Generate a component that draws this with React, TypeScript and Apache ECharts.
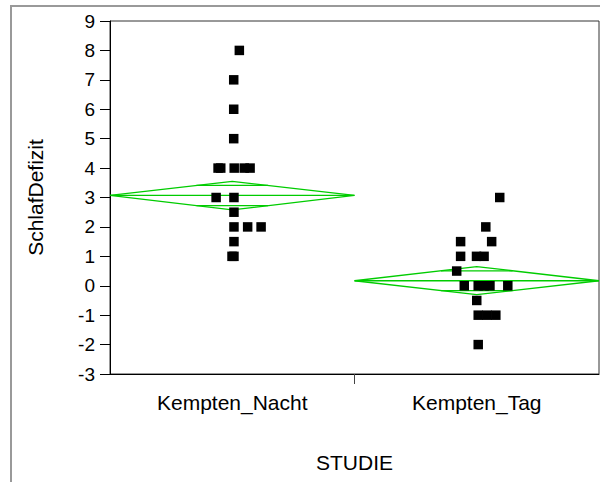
import React, { useEffect, useRef } from "react";
import * as echarts from "echarts";

// Groups (categories) on the x axis
const categories = ["Kempten_Nacht", "Kempten_Tag"];

const nachtValues = [8, 7, 6, 5, 4, 4, 4, 4, 4, 3, 3, 2.5, 2, 2, 2, 1.5, 1, 1];
// Horizontal jitter of each point within its group (fraction of a category width)
const nachtJitter = [0.029, 0.006, 0.006, 0.006, -0.058, -0.047, 0.008, 0.049, 0.073, -0.066, 0.007, 0.007, 0.007, 0.063, 0.118, 0.007, -0.001, 0.007];

const tagValues = [3, 2, 1.5, 1.5, 1, 1, 1, 0.5, 0, 0, 0, 0, 0, -0.5, -1, -1, -1, -2];
const tagJitter = [0.094, 0.037, -0.066, 0.061, -0.066, -0.001, 0.03, -0.082, -0.051, 0.006, 0.03, 0.054, 0.127, 0, 0.006, 0.042, 0.078, 0.006];

// Means diamonds: group mean and 95% confidence limits
const groupMeans = [3.07, 0.17];
const groupLower = [2.58, -0.3];
const groupUpper = [3.55, 0.65];

// Y axis ticks
const yMin = -3;
const yMax = 9;
const yStep = 1;

const FONT = "Liberation Sans, Arial, Helvetica, sans-serif";
const GREEN = "#00cc00";

export default function App() {
  const ref = useRef<HTMLDivElement>(null);

  useEffect(() => {
    if (!ref.current) return;
    const chart = echarts.init(ref.current, undefined, { renderer: "svg" });

    const pointData: number[][] = [];
    nachtValues.forEach((v, i) => pointData.push([0.5 + nachtJitter[i], v]));
    tagValues.forEach((v, i) => pointData.push([1.5 + tagJitter[i], v]));

    const diamondData = groupMeans.map((m, i) => [i, m, groupLower[i], groupUpper[i]]);

    const option: any = {
      animation: false,
      backgroundColor: "#ffffff",
      grid: {
        left: 110,
        top: 21,
        right: 1,
        bottom: 108,
        show: true,
        borderColor: "#333333",
        borderWidth: 1,
        backgroundColor: "transparent",
      },
      graphic: [
        {
          type: "rect",
          shape: { x: 11, y: 6, width: 640, height: 520 },
          style: { fill: "none", stroke: "#999999", lineWidth: 2 },
          silent: true,
          z: -10,
        },
      ],
      xAxis: {
        type: "value",
        min: 0,
        max: categories.length,
        interval: 1,
        name: "STUDIE",
        nameLocation: "middle",
        nameGap: 78,
        nameTextStyle: { fontFamily: FONT, fontSize: 21, color: "#000" },
        splitLine: { show: false },
        axisLine: { show: true, onZero: false, lineStyle: { color: "#000", width: 1 } },
        axisTick: {
          show: true,
          length: 10,
          customValues: [1],
          lineStyle: { color: "#444", width: 1 },
        },
        axisLabel: {
          customValues: categories.map((_, i) => i + 0.5),
          formatter: (v: number) => categories[Math.floor(v)] ?? "",
          fontFamily: FONT,
          fontSize: 21,
          color: "#000",
          margin: 18,
        },
      },
      yAxis: {
        type: "value",
        min: yMin,
        max: yMax,
        interval: yStep,
        name: "SchlafDefizit",
        nameLocation: "middle",
        nameGap: 64,
        nameTextStyle: { fontFamily: FONT, fontSize: 21, color: "#000" },
        splitLine: { show: false },
        axisLine: { show: true, onZero: false, lineStyle: { color: "#000", width: 1 } },
        axisTick: { show: true, length: 10, lineStyle: { color: "#000", width: 1 } },
        axisLabel: {
          fontFamily: FONT,
          fontSize: 19,
          color: "#000",
          margin: 15,
        },
      },
      series: [
        {
          type: "custom",
          name: "Means diamonds",
          data: diamondData,
          z: 2,
          renderItem: (params: any, api: any) => {
            const g = api.value(0);
            const mean = api.value(1);
            const lo = api.value(2);
            const hi = api.value(3);
            const left = api.coord([g, mean]);
            const right = api.coord([g + 1, mean]);
            const top = api.coord([g + 0.5, hi]);
            const bottom = api.coord([g + 0.5, lo]);
            const half = (hi - lo) / 2;
            const ov = half / Math.SQRT2;
            const frac = 0.5 * (1 - 1 / Math.SQRT2);
            const ovTopL = api.coord([g + 0.5 - frac, mean + ov]);
            const ovTopR = api.coord([g + 0.5 + frac, mean + ov]);
            const ovBotL = api.coord([g + 0.5 - frac, mean - ov]);
            const ovBotR = api.coord([g + 0.5 + frac, mean - ov]);
            const style = { stroke: GREEN, lineWidth: 1.3, fill: "none" };
            return {
              type: "group",
              children: [
                {
                  type: "polygon",
                  shape: { points: [left, top, right, bottom] },
                  style,
                },
                {
                  type: "line",
                  shape: { x1: left[0], y1: left[1], x2: right[0], y2: right[1] },
                  style,
                },
                {
                  type: "line",
                  shape: { x1: ovTopL[0], y1: ovTopL[1], x2: ovTopR[0], y2: ovTopR[1] },
                  style,
                },
                {
                  type: "line",
                  shape: { x1: ovBotL[0], y1: ovBotL[1], x2: ovBotR[0], y2: ovBotR[1] },
                  style,
                },
              ],
            };
          },
        },
        {
          type: "scatter",
          name: "SchlafDefizit",
          data: pointData,
          symbol: "rect",
          symbolSize: 9.5,
          itemStyle: { color: "#000", opacity: 1 },
          z: 3,
        },
      ],
    };

    chart.setOption(option);
    return () => chart.dispose();
  }, []);

  return (
    <div
      ref={ref}
      style={{ position: "absolute", left: 0, top: 0, width: 600, height: 482 }}
    />
  );
}
